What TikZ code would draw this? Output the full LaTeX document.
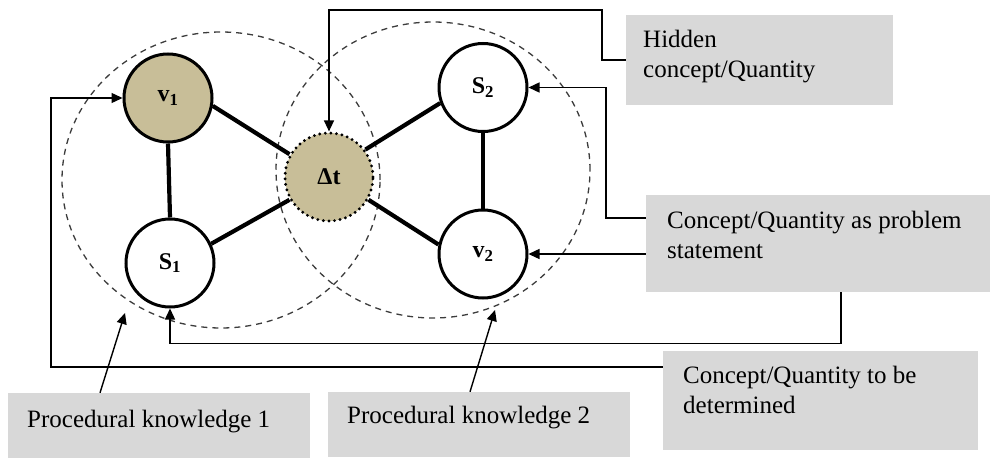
\documentclass[tikz,border=0pt]{standalone}
\usepackage{fontspec}
\setmainfont{Liberation Serif}
\usetikzlibrary{arrows.meta}
\definecolor{nodetan}{RGB}{200,190,152}
\definecolor{boxgray}{RGB}{216,216,216}
\definecolor{dashgray}{RGB}{60,60,60}
\begin{document}
\begin{tikzpicture}[x=1pt,y=-1pt,
  qnode/.style={circle, draw, line width=3pt, minimum size=88pt, inner sep=0pt,
    fill=white, font=\fontsize{24}{28}\selectfont\bfseries},
  hidnode/.style={qnode, fill=nodetan},
  dotnode/.style={qnode, fill=nodetan, dash pattern=on 0pt off 5.6pt, line cap=round, line width=3.2pt},
  edge/.style={line width=4.2pt},
  conn/.style={line width=1.4pt, -{Triangle[length=11pt,width=10pt]}},
  gbox/.style={rectangle, fill=boxgray, draw=none, inner sep=0pt},
  txt/.style={inner sep=0pt, font=\fontsize{25}{30}\selectfont},
  region/.style={dashed, dash pattern=on 6pt off 5pt, line width=1.3pt, draw=dashgray}]
\useasboundingbox (0,0) rectangle (990,460);

% dashed regions
\draw[region] (221,180) ellipse [x radius=159pt, y radius=148pt];
\draw[region] (433,170) ellipse [x radius=157pt, y radius=148pt];

% grey boxes
\node[gbox, minimum width=267pt, minimum height=90pt] (hidbox) at (759.5,60) {};
\node[gbox, minimum width=344pt, minimum height=97pt] (probbox) at (818,243.5) {};
\node[gbox, minimum width=315pt, minimum height=99pt] (detbox) at (820.5,400.5) {};
\node[gbox, minimum width=302pt, minimum height=65pt] (pk1) at (159,425.5) {};
\node[gbox, minimum width=302pt, minimum height=65pt] (pk2) at (479,424.5) {};

\node[txt, anchor=base west] (hidtxt) at (643,48) {\begin{tabular}[t]{@{}l@{}}Hidden\\concept/Quantity\end{tabular}};
\node[txt, anchor=base west] (probtxt) at (667,228) {\begin{tabular}[t]{@{}l@{}}Concept/Quantity as problem\\statement\end{tabular}};
\node[txt, anchor=base west] (dettxt) at (683,383) {\begin{tabular}[t]{@{}l@{}}Concept/Quantity to be\\determined\end{tabular}};
\node[txt, anchor=base west] (pk1txt) at (27,427) {Procedural knowledge 1};
\node[txt, anchor=base west] (pk2txt) at (347,423) {Procedural knowledge 2};

% quantity nodes
\node[hidnode] (v1) at (168,98) {v\textsubscript{1}};
\node[qnode] (S1) at (170,263) {S\textsubscript{1}};
\node[dotnode] (dt) at (329,177) {Δt};
\node[qnode] (S2) at (483,87.5) {S\textsubscript{2}};
\node[qnode] (v2) at (483,254) {v\textsubscript{2}};

% edges
\draw[edge] (v1.south) -- (S1.north);
\draw[edge] (v1.-10) -- (dt.150);
\draw[edge] (S1.25) -- (dt.210);
\draw[edge] (dt.37) -- (S2.200);
\draw[edge] (dt.-30) -- (v2.168);
\draw[edge] (S2.south) -- (v2.north);

% connectors
\draw[conn] (hidbox.west) -- (602,60) -- (602,10) -| (dt.north);
\draw[conn] ([yshift=25.5pt]probbox.west) -- (606,218) |- (S2.east);
\draw[conn] (probbox.west |- v2) -- (v2.east);
\draw[conn] ([xshift=23pt]probbox.south) -- ++(0,51) -| (S1.south);
\draw[conn] ([yshift=33.5pt]detbox.west) -- ++(-612,0) |- (v1.west);
\coordinate (pk1end) at (125,313);
\coordinate (pk2end) at (495,310);
\draw[conn] ([xshift=-59pt]pk1.north) -- (pk1end);
\draw[conn] ([xshift=-9pt]pk2.north) -- (pk2end);
\end{tikzpicture}
\end{document}
